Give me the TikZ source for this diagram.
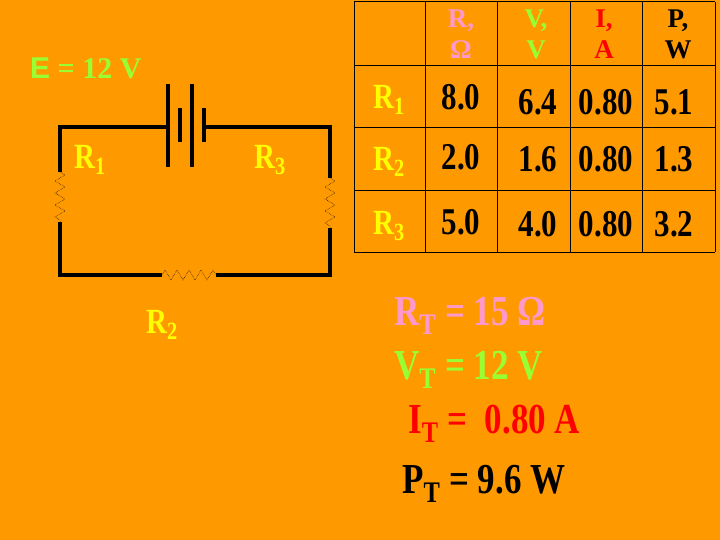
\documentclass[tikz,border=0pt]{standalone}
\usepackage{fontspec}
\setmainfont{Liberation Serif}
\setsansfont{Liberation Sans}
\usetikzlibrary{decorations.pathmorphing}
\definecolor{bg}{HTML}{FF9900}
\definecolor{pk}{HTML}{FF99CC}
\definecolor{gr}{HTML}{99FF33}
\definecolor{yl}{HTML}{FFFF00}
\definecolor{rd}{HTML}{FF0000}
\newcommand\tall[1]{\scalebox{1}[1.22]{#1}}
\tikzset{
 wire/.style={line width=4pt},
 plate/.style={line width=4pt},
 res/.style={densely dotted, line width=0.5pt, decorate, decoration={zigzag,segment length=12pt,amplitude=5pt}},
 grid/.style={line width=1pt},
 big/.style={font=\bfseries\fontsize{31}{34}\selectfont, inner sep=0pt},
 hd/.style={font=\bfseries\fontsize{27}{31}\selectfont, align=center, inner sep=0pt},
 lab/.style={font=\bfseries\fontsize{29}{32}\selectfont, text=yl, inner sep=0pt},
 tot/.style={font=\bfseries\fontsize{35}{38}\selectfont, inner sep=0pt, anchor=west}
}
\begin{document}
\begin{tikzpicture}[x=1pt,y=-1pt]
\fill[bg] (0,0) rectangle (720,540);
\useasboundingbox (0,0) rectangle (720,540);
% circuit
\coordinate (tl) at (60,127); \coordinate (tr) at (330,127);
\coordinate (bl) at (60,275); \coordinate (br) at (330,275);
\coordinate (b1) at (168,127); \coordinate (b2) at (204,127);
\coordinate (l1) at (60,172); \coordinate (l2) at (60,222);
\coordinate (r1) at (330,178); \coordinate (r2) at (330,228);
\coordinate (m1) at (162,275); \coordinate (m2) at (216,275);
\draw[wire] (b1) -- (tl) -- (l1);
\draw[wire] (l2) -- (bl) -- (m1);
\draw[wire] (m2) -- (br) -- (r2);
\draw[wire] (r1) -- (tr) -- (b2);
\draw[plate] (168,84) -- (168,167);
\draw[plate] (180,108) -- (180,142);
\draw[plate] (192,84) -- (192,167);
\draw[plate] (204,108) -- (204,142);
\draw[res] (l1) -- (l2);
\draw[res] (r1) -- (r2);
\draw[res] (m1) -- (m2);
\node[lab] (R1) at (90,160) {\tall{R\textsubscript{1}}};
\node[lab] (R3) at (270,160) {\tall{R\textsubscript{3}}};
\node[lab] (R2) at (162,325) {\tall{R\textsubscript{2}}};
\node[font=\bfseries\fontsize{30}{33}\selectfont, text=gr, anchor=west, inner sep=0pt] (E) at (30,68) {{\sffamily E} = 12 V};
% table
\foreach \x in {354,425,497,570,642,715} \draw[grid] (\x,2) -- (\x,252);
\foreach \y in {2,66,128,191,252} \draw[grid] (354,\y) -- (715,\y);
\node[hd,text=pk] (hR) at (461,34) {R,\\Ω};
\node[hd,text=gr] (hV) at (536,34) {V,\\V};
\node[hd,text=rd] (hI) at (604,34) {I,\\A};
\node[hd,text=black] (hP) at (678,34) {P,\\W};
\node[lab] (t1) at (389,100) {\tall{R\textsubscript{1}}};
\node[lab] (t2) at (389,162) {\tall{R\textsubscript{2}}};
\node[lab] (t3) at (389,226) {\tall{R\textsubscript{3}}};
\node[big] at (461,97) {\tall{8.0}};
\node[big] at (461,157) {\tall{2.0}};
\node[big] at (461,222) {\tall{5.0}};
\node[big] at (538,102) {\tall{6.4}};
\node[big] at (538,159) {\tall{1.6}};
\node[big] at (538,224) {\tall{4.0}};
\node[big] at (606,102) {\tall{0.80}};
\node[big] at (606,159) {\tall{0.80}};
\node[big] at (606,224) {\tall{0.80}};
\node[big] at (674,102) {\tall{5.1}};
\node[big] at (674,159) {\tall{1.3}};
\node[big] at (674,224) {\tall{3.2}};
% totals
\node[tot,text=pk] (RT) at (394,316) {\tall{R\textsubscript{T} = 15 Ω}};
\node[tot,text=gr] (VT) at (394,370) {\tall{V\textsubscript{T} = 12 V}};
\node[tot,text=rd] (IT) at (408,424) {\tall{I\textsubscript{T} =\ \ 0.80 A}};
\node[tot,text=black] (PT) at (402,484) {\tall{P\textsubscript{T} = 9.6 W}};
\end{tikzpicture}
\end{document}
